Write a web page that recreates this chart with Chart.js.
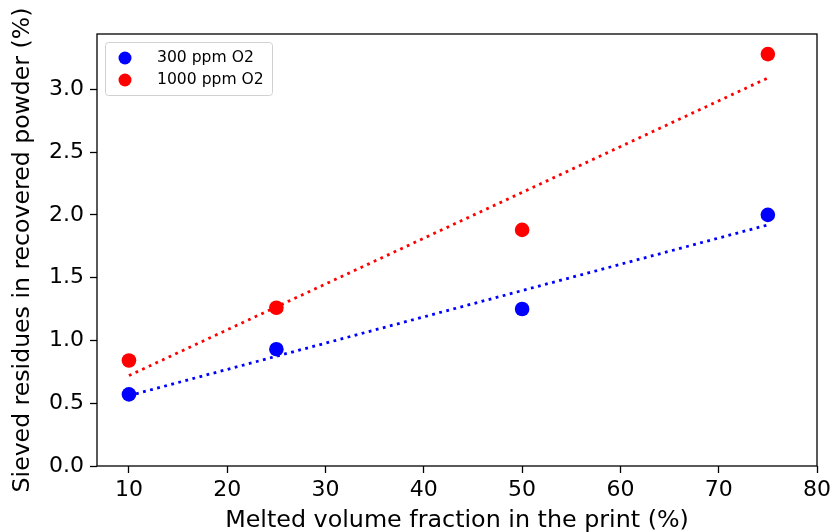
<!DOCTYPE html>
<html>
<head>
<meta charset="utf-8">
<script src="https://cdn.jsdelivr.net/npm/chart.js@4/dist/chart.umd.min.js"></script>
<style>
html,body{margin:0;padding:0;background:#fff;}
#wrap{width:835px;height:532px;position:relative;}
</style>
</head>
<body>
<div id="wrap"><canvas id="c" width="835" height="532"></canvas></div>
<script>
// Data
const meltedFraction = [10, 25, 50, 75];
const residues300 = [0.57, 0.93, 1.25, 2.00];
const residues1000 = [0.84, 1.26, 1.88, 3.28];
const trendX = [10, 75];
const trend300 = [0.56, 1.92];
const trend1000 = [0.72, 3.09];
const seriesLabels = ['300 ppm O2', '1000 ppm O2'];
const xTicks = [10, 20, 30, 40, 50, 60, 70, 80];
const yTicks = [0.0, 0.5, 1.0, 1.5, 2.0, 2.5, 3.0];
const xTitle = 'Melted volume fraction in the print (%)';
const yTitle = 'Sieved residues in recovered powder (%)';

const FONT = "'DejaVu Sans', sans-serif";
const toPts = (xs, ys) => xs.map((x, i) => ({x: x, y: ys[i]}));

const frame = {
  id: 'frame',
  afterDatasetsDraw(chart) {
    const {ctx, chartArea: a} = chart;
    ctx.save();
    ctx.strokeStyle = '#000';
    ctx.lineWidth = 1.3;
    ctx.strokeRect(a.left, a.top, a.right - a.left, a.bottom - a.top);
    ctx.restore();
  },
  afterDraw(chart) {
    const {ctx, chartArea: a} = chart;
    const items = [
      {label: chart.data.datasets[2].label, color: chart.data.datasets[2].backgroundColor},
      {label: chart.data.datasets[3].label, color: chart.data.datasets[3].backgroundColor}
    ];
    const bx = a.left + 8, by = a.top + 8, bw = 167, bh = 53;
    ctx.save();
    ctx.fillStyle = 'rgba(255,255,255,0.8)';
    ctx.strokeStyle = '#d0d0d0';
    ctx.lineWidth = 1;
    ctx.beginPath();
    ctx.roundRect(bx + 0.5, by + 0.5, bw, bh, 3);
    ctx.fill();
    ctx.stroke();
    ctx.font = '15.6px ' + FONT;
    ctx.textBaseline = 'middle';
    items.forEach((it, i) => {
      const cy = by + 16 + i * 22;
      ctx.fillStyle = it.color;
      ctx.beginPath();
      ctx.arc(bx + 20, cy, 6.5, 0, Math.PI * 2);
      ctx.fill();
      ctx.fillStyle = '#000';
      ctx.fillText(it.label, bx + 52, cy);
    });
    ctx.restore();
  }
};

new Chart(document.getElementById('c'), {
  type: 'scatter',
  data: {
    datasets: [
      {label: 'fit 300', type: 'line', data: toPts(trendX, trend300), borderColor: '#0000ff', borderWidth: 2.8, borderDash: [2.8, 4.5], pointRadius: 0, fill: false, order: 2},
      {label: 'fit 1000', type: 'line', data: toPts(trendX, trend1000), borderColor: '#ff0000', borderWidth: 2.8, borderDash: [2.8, 4.5], pointRadius: 0, fill: false, order: 2},
      {label: seriesLabels[0], data: toPts(meltedFraction, residues300), backgroundColor: '#0000ff', borderColor: '#0000ff', pointRadius: 7.3, borderWidth: 0, order: 1},
      {label: seriesLabels[1], data: toPts(meltedFraction, residues1000), backgroundColor: '#ff0000', borderColor: '#ff0000', pointRadius: 7.3, borderWidth: 0, order: 1}
    ]
  },
  options: {
    responsive: false,
    animation: false,
    layout: {padding: {top: 34, right: 17, left: 0, bottom: 0}},
    plugins: {legend: {display: false}, tooltip: {enabled: false}},
    scales: {
      x: {
        type: 'linear', min: 6.75, max: 80,
        afterBuildTicks: s => { s.ticks = xTicks.map(v => ({value: v})); },
        afterFit: s => { s.height = 66; },
        border: {display: false},
        grid: {drawOnChartArea: false, drawTicks: true, tickLength: 7, tickColor: '#000', tickWidth: 1.3},
        ticks: {color: '#000', font: {family: FONT, size: 22}, padding: 4, maxRotation: 0, callback: v => String(v)},
        title: {display: true, text: xTitle, color: '#000', font: {family: FONT, size: 23.8}, padding: {top: 0, bottom: -3}}
      },
      y: {
        type: 'linear', min: 0, max: 3.44,
        afterBuildTicks: s => { s.ticks = yTicks.map(v => ({value: v})); },
        afterFit: s => { s.width = 97; },
        border: {display: false},
        grid: {drawOnChartArea: false, drawTicks: true, tickLength: 7, tickColor: '#000', tickWidth: 1.3},
        ticks: {color: '#000', font: {family: FONT, size: 22}, padding: 6, callback: v => v.toFixed(1)},
        title: {display: true, text: yTitle, color: '#000', font: {family: FONT, size: 23.6}, padding: {top: 9, bottom: 0}}
      }
    }
  },
  plugins: [frame]
});
</script>
</body>
</html>
